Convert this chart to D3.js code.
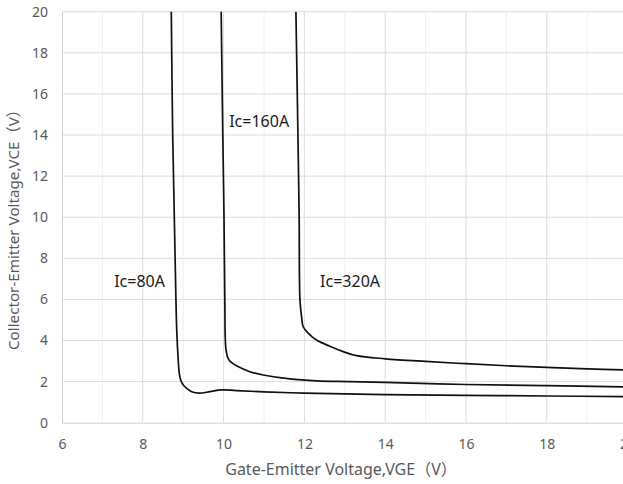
<!DOCTYPE html>
<html>
<head>
<meta charset="utf-8">
<script src="https://cdn.jsdelivr.net/npm/d3@7"></script>
<style>
  html, body { margin: 0; padding: 0; background: #fff; }
  svg { display: block; font-family: "Noto Sans", "Noto Sans CJK SC", sans-serif; }
</style>
</head>
<body>
<svg id="chart" width="623" height="484"></svg>
<script>
// ---- data ----
const xTicks = [6, 8, 10, 12, 14, 16, 18, 20];
const yTicks = [0, 2, 4, 6, 8, 10, 12, 14, 16, 18, 20];
const xMinor = [7, 9, 11, 13, 15, 17, 19];
const seriesNames = ["Ic=80A", "Ic=160A", "Ic=320A"];

const ic80 = [
  [8.705, 20], [8.74, 14], [8.78, 10], [8.815, 6.5], [8.84, 4.5], [8.875, 3.1],
  [8.903, 2.40], [8.938, 2.08], [9.002, 1.83], [9.087, 1.67], [9.21, 1.51], [9.40, 1.44],
  [9.66, 1.51], [9.95, 1.60], [10.32, 1.56], [11, 1.50], [12, 1.44], [13, 1.40],
  [14, 1.37], [16, 1.33], [18, 1.30], [20, 1.27]
];
const ic160 = [
  [9.94, 20], [9.98, 14], [10.01, 10], [10.03, 5.97], [10.06, 3.54], [10.12, 3.09],
  [10.20, 2.92], [10.32, 2.77], [10.65, 2.48], [10.98, 2.32], [11.64, 2.13], [12.30, 2.04],
  [13.13, 2.00], [14, 1.96], [16, 1.86], [18, 1.80], [20, 1.74]
];
const ic320 = [
  [11.79, 20], [11.84, 14], [11.87, 10], [11.89, 5.97], [11.93, 5.16], [11.97, 4.67],
  [12.10, 4.35], [12.30, 4.02], [12.63, 3.72], [12.96, 3.46], [13.29, 3.26], [14, 3.11],
  [15, 2.98], [16, 2.87], [17, 2.77], [18, 2.69], [19, 2.62], [20, 2.56]
];
const labelPos = [[7.92, 6.8], [10.88, 14.62], [13.13, 6.8]];

// ---- layout ----
const svg = d3.select("#chart");
const x = d3.scaleLinear().domain([6, 20]).range([62, 627.6]);
const y = d3.scaleLinear().domain([0, 20]).range([422.7, 11.7]);

// minor vertical gridlines
svg.append("g").selectAll("line").data(xMinor).join("line")
  .attr("x1", d => x(d)).attr("x2", d => x(d))
  .attr("y1", y(0)).attr("y2", y(20))
  .attr("stroke", "#f0f0f0").attr("stroke-width", 1);

// major vertical gridlines
svg.append("g").selectAll("line").data(xTicks.slice(1)).join("line")
  .attr("x1", d => x(d)).attr("x2", d => x(d))
  .attr("y1", y(0)).attr("y2", y(20))
  .attr("stroke", "#dcdcdc").attr("stroke-width", 1);

// horizontal gridlines
svg.append("g").selectAll("line").data(yTicks.slice(1)).join("line")
  .attr("x1", x(6)).attr("x2", x(20))
  .attr("y1", d => y(d)).attr("y2", d => y(d))
  .attr("stroke", "#dcdcdc").attr("stroke-width", 1);

// axes
const xAxis = svg.append("g").attr("transform", `translate(0,${y(0)})`)
  .call(d3.axisBottom(x).tickValues(xTicks).tickSize(0).tickPadding(16));
xAxis.select(".domain").attr("stroke", "#d0d0d0");
xAxis.selectAll("text").attr("fill", "#595959").attr("font-size", 14)
  .attr("font-family", "Noto Sans, sans-serif");

const yAxis = svg.append("g").attr("transform", `translate(${x(6)},0)`)
  .call(d3.axisLeft(y).tickValues(yTicks).tickSize(0).tickPadding(14));
yAxis.select(".domain").attr("stroke", "#d0d0d0");
yAxis.selectAll("text").attr("fill", "#595959").attr("font-size", 14)
  .attr("font-family", "Noto Sans, sans-serif");

// curves
const line = d3.line().x(d => x(d[0])).y(d => y(d[1]))
  .curve(d3.curveCatmullRom.alpha(0.5));
[ic80, ic160, ic320].forEach(s => {
  svg.append("path").datum(s).attr("d", line)
    .attr("fill", "none").attr("stroke", "#111").attr("stroke-width", 1.7);
});

// labels
svg.append("g").selectAll("text").data(seriesNames).join("text")
  .attr("x", (d, i) => x(labelPos[i][0]))
  .attr("y", (d, i) => y(labelPos[i][1]))
  .attr("text-anchor", "middle").attr("dominant-baseline", "middle")
  .attr("font-size", 16).attr("fill", "#1a1a1a")
  .text(d => d);

// axis titles
svg.append("text").attr("x", 341).attr("y", 471)
  .attr("text-anchor", "middle").attr("dominant-baseline", "middle")
  .attr("font-size", 16).attr("fill", "#595959")
  .text("Gate-Emitter Voltage,VGE（V）");

svg.append("text")
  .attr("transform", `translate(15,226) rotate(-90)`)
  .attr("text-anchor", "middle").attr("dominant-baseline", "middle")
  .attr("font-size", 15.2).attr("fill", "#595959")
  .text("Collector-Emitter Voltage,VCE（V）");
</script>
</body>
</html>
